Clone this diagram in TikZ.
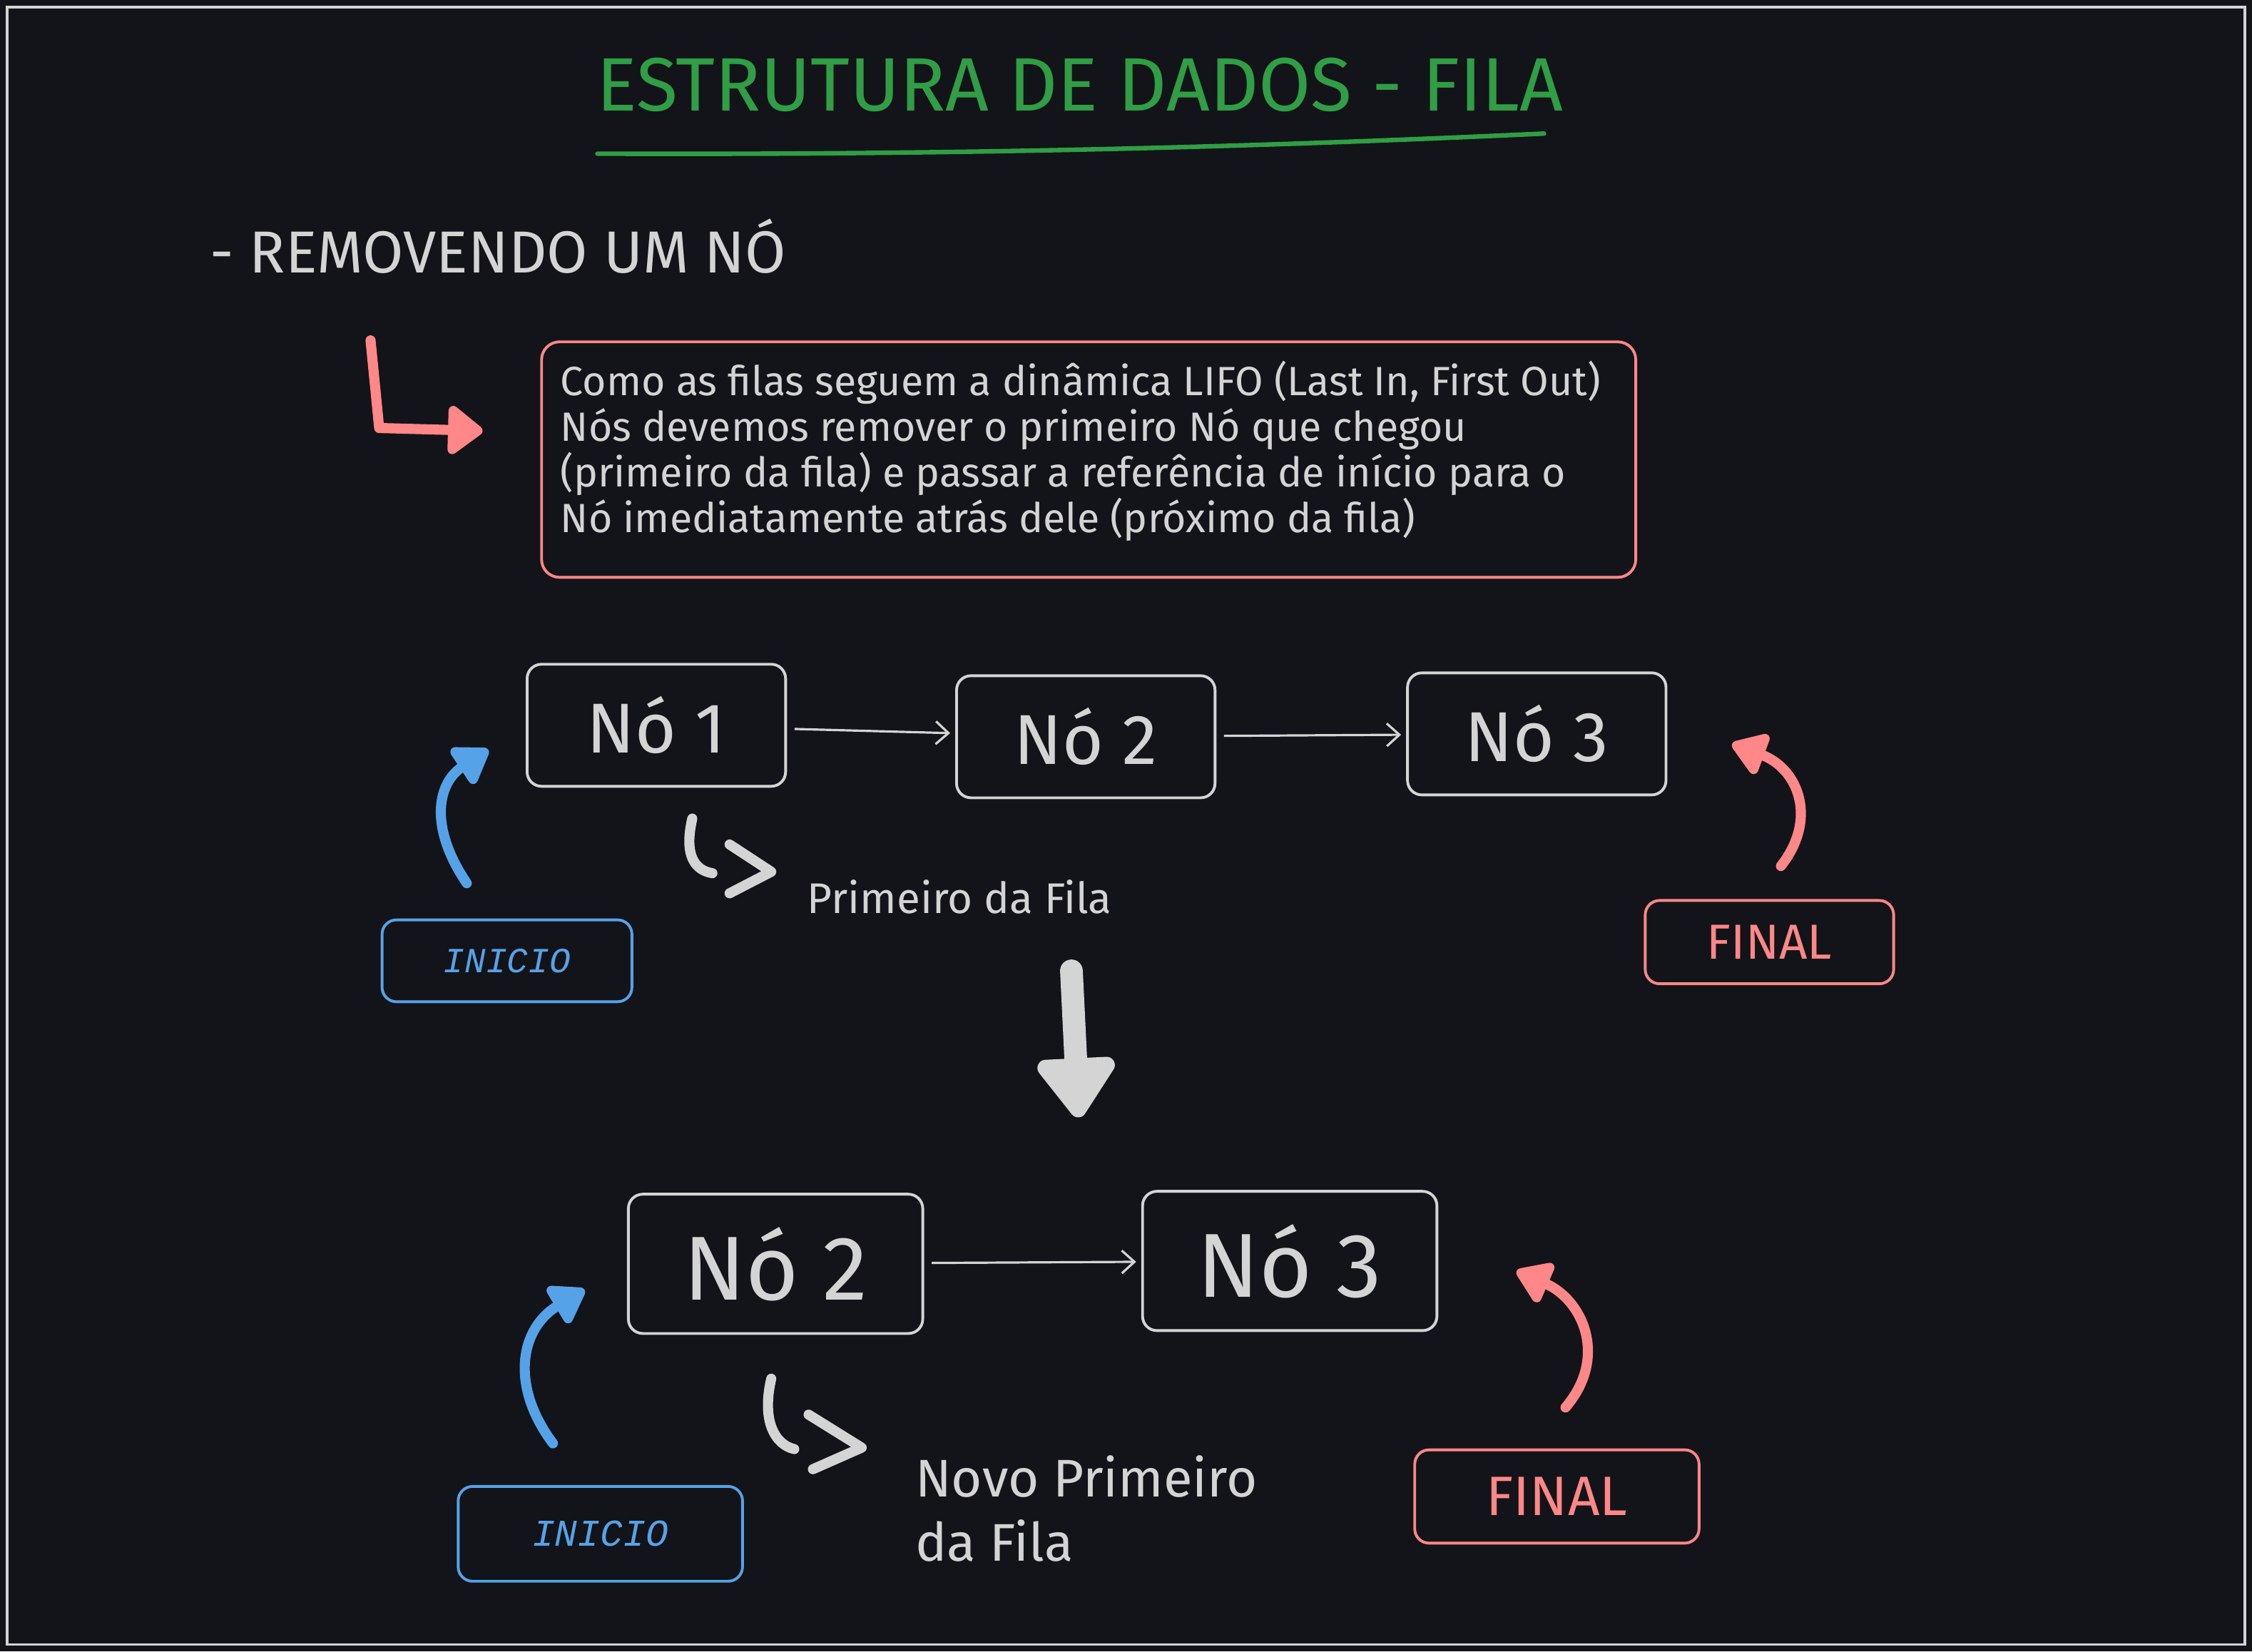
\documentclass[tikz,border=0pt]{standalone}
\usepackage{fontspec}
\setmainfont{Fira Sans}
\newfontfamily\codefont{Liberation Mono}
\usepackage{tikz}
\usetikzlibrary{arrows.meta, positioning}
\definecolor{fundo}{RGB}{18,20,25}
\definecolor{giz}{RGB}{212,212,212}
\definecolor{verde}{RGB}{47,158,68}
\definecolor{vermelho}{RGB}{255,135,135}
\definecolor{azul}{RGB}{86,162,232}
\tikzstyle{nodebox} = [rectangle, rounded corners=0.2cm, minimum width=3.6cm, minimum height=1.7cm, text centered, draw=giz, line width=1.1pt, text=giz, font=\fontsize{28}{32}\selectfont]
\tikzstyle{iniciobox} = [rectangle, rounded corners=0.2cm, draw=azul, line width=1.1pt, text=azul, font=\codefont\itshape\fontsize{14}{16}\selectfont]
\tikzstyle{finalbox} = [rectangle, rounded corners=0.2cm, draw=vermelho, line width=1.1pt, text=vermelho, font=\fontsize{19.5}{22}\selectfont]
\tikzstyle{arrow} = [giz, line width=0.9pt, -{Straight Barb[length=5pt,width=9pt]}, shorten <=3pt, shorten >=2pt]
\tikzstyle{curva} = [line width=4pt, line cap=round, -{Triangle[round,length=15pt,width=19pt]}]
\tikzstyle{gancho} = [giz, line width=4pt, line cap=round, line join=round]

\begin{document}
\begin{tikzpicture}[x=0.02cm, y=-0.02cm, node distance=2cm]
	\fill [fundo] (0,0) rectangle (1568,1150);
	\useasboundingbox (0,0) rectangle (1568,1150);
	\draw [giz, line width=1pt] (5,5) rectangle (1563,1145);
	\node (titulo) [text=verde, font=\fontsize{30}{34}\selectfont] at (752,59) {ESTRUTURA DE DADOS - FILA};
	\draw [verde, line width=1.8pt, line cap=round] (416,107) .. controls (680,108) and (880,102) .. (1075,93);
	\node (remov) [text=giz, anchor=base west, font=\fontsize{23.5}{28}\selectfont] at (140,190) {- REMOVENDO UM NÓ};
	\node (nota) [rectangle, rounded corners=0.25cm, draw=vermelho, line width=1.1pt, minimum width=15.24cm, minimum height=3.28cm] at (758,320) {};
	\node (notatexto) [anchor=north west, text=giz, align=left, inner sep=0pt, font=\fontsize{16.2}{18.1}\selectfont] at (390,251) {Como as filas seguem a dinâmica LIFO (Last In, First Out)\\Nós devemos remover o primeiro Nó que chegou\\(primeiro da fila) e passar a referência de início para o\\Nó imediatamente atrás dele (próximo da fila)};
	\draw [vermelho, line width=4pt, line cap=round, line join=round, -{Triangle[round,length=15pt,width=22pt]}] (258,237) -- (264,298) -- (336,300);
	\node (no1) [nodebox] at (457,505) {Nó 1};
	\node (no2) [nodebox] at (756,513) {Nó 2};
	\node (no3) [nodebox] at (1070,511) {Nó 3};
	\draw [arrow] (no1) -- (no2);
	\draw [arrow] (no2) -- (no3);
	\node (inicio1) [iniciobox, minimum width=3.48cm, minimum height=1.14cm] at (353,669) {INICIO};
	\node (final1) [finalbox, minimum width=3.46cm, minimum height=1.16cm] at (1232,656) {FINAL};
	\coordinate (i1a) at (325,615);
	\coordinate (i1b) at (340,522);
	\draw [curva, azul] (i1a) .. controls (298,575) and (305,545) .. (i1b);
	\coordinate (f1a) at (1240,603);
	\coordinate (f1b) at (1206,518);
	\draw [curva, vermelho] (f1a) .. controls (1266,570) and (1252,535) .. (f1b);
	\node (prim1) [text=giz, anchor=base west, font=\fontsize{17}{20}\selectfont] at (556,636) {Primeiro da Fila};
	\draw [gancho] (482,570) .. controls (476,596) and (484,606) .. (496,608);
	\draw [gancho] (508,588) -- (537,607) -- (508,622);
	\draw [giz, line width=9pt, line cap=round, -{Triangle[round,length=26pt,width=35pt]}] (746,676) -- (751,778);
	\node (no2b) [nodebox, minimum width=4.1cm, minimum height=1.94cm, font=\fontsize{36}{42}\selectfont] at (540,880) {Nó 2};
	\node (no3b) [nodebox, minimum width=4.1cm, minimum height=1.94cm, font=\fontsize{36}{42}\selectfont] at (898,878) {Nó 3};
	\draw [arrow] (no2b) -- (no3b);
	\node (inicio2) [iniciobox, minimum width=3.96cm, minimum height=1.32cm, font=\codefont\itshape\fontsize{15}{18}\selectfont] at (418,1068) {INICIO};
	\node (final2) [finalbox, minimum width=3.96cm, minimum height=1.3cm, font=\fontsize{22}{26}\selectfont] at (1084,1042) {FINAL};
	\coordinate (i2a) at (385,1005);
	\coordinate (i2b) at (407,898);
	\draw [curva, azul] (i2a) .. controls (355,965) and (362,925) .. (i2b);
	\coordinate (f2a) at (1090,980);
	\coordinate (f2b) at (1056,885);
	\draw [curva, vermelho] (f2a) .. controls (1120,945) and (1102,905) .. (f2b);
	\draw [gancho] (537,960) .. controls (530,990) and (540,1006) .. (553,1009);
	\draw [gancho] (563,985) -- (600,1008) -- (566,1023);
	\node (prim2) [text=giz, anchor=north west, align=left, inner sep=0pt, font=\fontsize{21}{25.5}\selectfont] at (637,1013) {Novo Primeiro\\da Fila};
\end{tikzpicture}
\end{document}
